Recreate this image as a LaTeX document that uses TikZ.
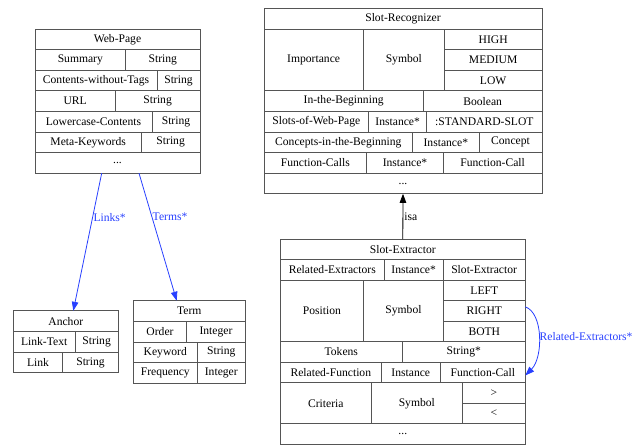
\documentclass[tikz,border=0pt]{standalone}
\usepackage{fontspec}
\setmainfont{Liberation Serif}
\usetikzlibrary{arrows.meta}
\definecolor{linkblue}{RGB}{40,64,255}
\definecolor{border}{RGB}{85,85,85}
\tikzset{
  cellbox/.style={draw=border, line width=0.9pt, inner sep=0pt, outer sep=0pt,
    font=\fontsize{11.6}{13}\selectfont, text=black},
  link/.style={draw=linkblue, line width=0.8pt, -{Triangle[length=9pt,width=6.5pt]}},
  isaedge/.style={draw=black, line width=0.8pt, -{Triangle[length=9pt,width=6.5pt]}},
  lbl/.style={text=linkblue, font=\fontsize{11.6}{13}\selectfont, inner sep=0.5pt},
}
\newcommand\cell[6]{\node[cellbox, minimum width={#4pt-#2pt}, minimum height={#5pt-#3pt}] (#1) at ({(#2+#4)/2},{(#3+#5)/2}) {#6};}
\begin{document}
\begin{tikzpicture}[x=1pt,y=-1pt]
\useasboundingbox (0,0) rectangle (637,445);
% ---------- Web-Page ----------
\cell{wp}{35}{29}{200}{173.2}{}
\cell{wph}{35}{29}{200}{49.6}{Web-Page}
\cell{wpa}{35}{49.6}{125.7}{70.2}{Summary}
\cell{wpb}{125.7}{49.6}{200}{70.2}{String}
\cell{wpc}{35}{70.2}{157}{90.8}{Contents-without-Tags}
\cell{wpd}{157}{70.2}{200}{90.8}{String}
\cell{wpe}{35}{90.8}{115.3}{111.4}{URL}
\cell{wpf}{115.3}{90.8}{200}{111.4}{String}
\cell{wpg}{35}{111.4}{152}{132}{Lowercase-Contents}
\cell{wph2}{152}{111.4}{200}{132}{String}
\cell{wpi}{35}{132}{141.3}{152.6}{Meta-Keywords}
\cell{wpj}{141.3}{132}{200}{152.6}{String}
\cell{wpk}{35}{152.6}{200}{173.2}{...}
% ---------- Anchor ----------
\cell{an}{13.3}{310.8}{118.3}{372.8}{}
\cell{anh}{13.3}{310.8}{118.3}{331.5}{Anchor}
\cell{ana}{13.3}{331.5}{75}{352.2}{Link-Text}
\cell{anb}{75}{331.5}{118.3}{352.2}{String}
\cell{anc}{13.3}{352.2}{62.7}{372.8}{Link}
\cell{and}{62.7}{352.2}{118.3}{372.8}{String}
% ---------- Term ----------
\cell{tm}{133.3}{300.7}{245.3}{383}{}
\cell{tmh}{133.3}{300.7}{245.3}{321.4}{Term}
\cell{tma}{133.3}{321.4}{186.7}{342}{Order}
\cell{tmb}{186.7}{321.4}{245.3}{342}{Integer}
\cell{tmc}{133.3}{342}{197.3}{362.6}{Keyword}
\cell{tmd}{197.3}{342}{245.3}{362.6}{String}
\cell{tme}{133.3}{362.6}{197.3}{383}{Frequency}
\cell{tmf}{197.3}{362.6}{245.3}{383}{Integer}
% ---------- Slot-Recognizer ----------
\cell{sr}{264}{8.4}{542}{193.8}{}
\cell{srh}{264}{8.4}{542}{29}{Slot-Recognizer}
\cell{sra}{264}{29}{363.3}{90.8}{Importance}
\cell{srb}{363.3}{29}{444.3}{90.8}{Symbol}
\cell{src}{444.3}{29}{542}{49.6}{HIGH}
\cell{srd}{444.3}{49.6}{542}{70.2}{MEDIUM}
\cell{sre}{444.3}{70.2}{542}{90.8}{LOW}
\cell{srf}{264}{90.8}{423.3}{111.4}{In-the-Beginning}
\cell{srg}{423.3}{90.8}{542}{111.4}{Boolean}
\cell{srh2}{264}{111.4}{368.7}{132}{Slots-of-Web-Page}
\cell{sri}{368.7}{111.4}{426.7}{132}{Instance*}
\cell{srj}{426.7}{111.4}{542}{132}{:STANDARD-SLOT}
\cell{srk}{264}{132}{412.7}{152.6}{Concepts-in-the-Beginning}
\cell{srl}{412.7}{132}{479}{152.6}{Instance*}
\cell{srm}{479}{132}{542}{152.6}{Concept}
\cell{srn}{264}{152.6}{366.7}{173.2}{Function-Calls}
\cell{sro}{366.7}{152.6}{443.3}{173.2}{Instance*}
\cell{srp}{443.3}{152.6}{542}{173.2}{Function-Call}
\cell{srq}{264}{173.2}{542}{193.8}{...}
% ---------- Slot-Extractor ----------
\cell{sx}{280.3}{239}{525.3}{444.3}{}
\cell{sxh}{280.3}{239}{525.3}{259.5}{Slot-Extractor}
\cell{sxa}{280.3}{259.5}{384.3}{280.1}{Related-Extractors}
\cell{sxb}{384.3}{259.5}{443}{280.1}{Instance*}
\cell{sxc}{443}{259.5}{525.3}{280.1}{Slot-Extractor}
\cell{sxd}{280.3}{280.1}{363.7}{341.7}{Position}
\cell{sxe}{363.7}{280.1}{443.3}{341.7}{Symbol}
\cell{sxf}{443.3}{280.1}{525.3}{300.6}{LEFT}
\cell{sxg}{443.3}{300.6}{525.3}{321.1}{RIGHT}
\cell{sxi}{443.3}{321.1}{525.3}{341.7}{BOTH}
\cell{sxj}{280.3}{341.7}{402.3}{362.2}{Tokens}
\cell{sxk}{402.3}{341.7}{525.3}{362.2}{String*}
\cell{sxl}{280.3}{362.2}{381.3}{382.7}{Related-Function}
\cell{sxm}{381.3}{362.2}{440.3}{382.7}{Instance}
\cell{sxn}{440.3}{362.2}{525.3}{382.7}{Function-Call}
\cell{sxo}{280.3}{382.7}{371.3}{423.8}{Criteria}
\cell{sxp}{371.3}{382.7}{462.3}{423.8}{Symbol}
\cell{sxq}{462.3}{382.7}{525.3}{403.3}{>}
\cell{sxr}{462.3}{403.3}{525.3}{423.8}{<}
\cell{sxs}{280.3}{423.8}{525.3}{444.3}{...}
% ---------- connectors ----------
\draw[link] ([xshift=-15.8pt]wp.south) -- node[lbl, pos=0.32, anchor=west] {Links*} ([xshift=7.5pt]an.north);
\draw[link] ([xshift=21.5pt]wp.south) -- node[lbl, pos=0.34, anchor=west] {Terms*} ([xshift=-12.6pt]tm.north);
\draw[isaedge] (sx.north) -- node[pos=0.5, anchor=west, inner sep=1pt, font=\fontsize{11.6}{13}\selectfont] {isa} (sr.south);
\draw[link] ([yshift=4pt]sxg.east) .. controls +(18,6) and +(18,-18) .. node[lbl, pos=0.5, anchor=west] {Related-Extractors*} ([yshift=-3pt]sxn.east);
\end{tikzpicture}
\end{document}
